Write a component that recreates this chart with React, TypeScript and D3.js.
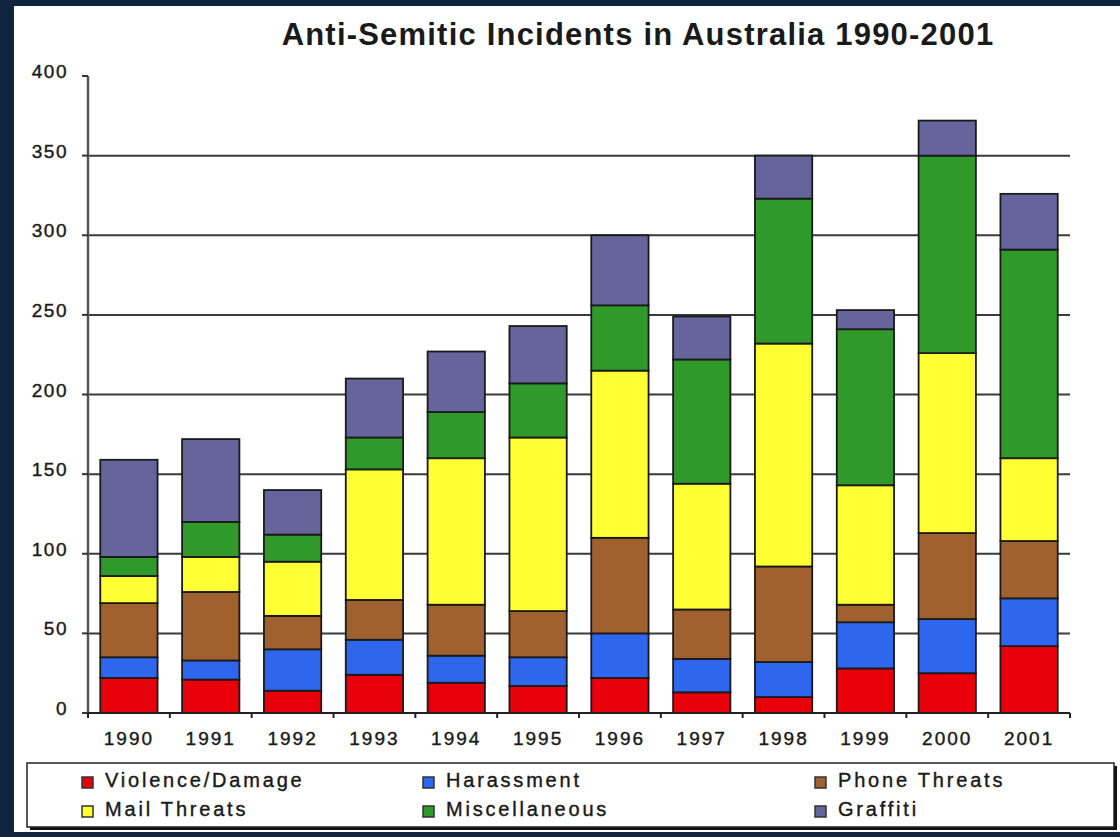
import * as d3 from "d3";

const years = ["1990", "1991", "1992", "1993", "1994", "1995", "1996", "1997", "1998", "1999", "2000", "2001"];
const seriesNames = ["Violence/Damage", "Harassment", "Phone Threats", "Mail Threats", "Miscellaneous", "Graffiti"];
const seriesColors = ["#e8000b", "#2f66ee", "#a0612e", "#ffff33", "#2f9a2a", "#65659c"];

// values per series, one per year
const violence = [22, 21, 14, 24, 19, 17, 22, 13, 10, 28, 25, 42];
const harassment = [13, 12, 26, 22, 17, 18, 28, 21, 22, 29, 34, 30];
const phone = [34, 43, 21, 25, 32, 29, 60, 31, 60, 11, 54, 36];
const mail = [17, 22, 34, 82, 92, 109, 105, 79, 140, 75, 113, 52];
const misc = [12, 22, 17, 20, 29, 34, 41, 78, 91, 98, 124, 131];
const graffiti = [61, 52, 28, 37, 38, 36, 44, 27, 27, 12, 22, 35];

const yTicks = [0, 50, 100, 150, 200, 250, 300, 350, 400];
const gridValues = [50, 100, 150, 200, 250, 300, 350];

const W = 1120;
const H = 837;
const font = "'Liberation Sans', Arial, sans-serif";

export default function App() {
  const series = [violence, harassment, phone, mail, misc, graffiti];
  const rows = years.map((y, i) => {
    const r: Record<string, number | string> = { year: y };
    seriesNames.forEach((n, k) => (r[n] = series[k][i]));
    return r;
  });
  const stacked = d3.stack<Record<string, number | string>>().keys(seriesNames)(rows as any);

  const x = d3.scaleBand<string>().domain(years).range([88, 1070]).paddingInner(0.3).paddingOuter(0.15);
  const y = d3.scaleLinear().domain([0, 400]).range([713, 76]);
  const step = x.step();

  const legendCols = [82, 423, 815];
  const legendRows = [777, 806];

  return (
    <div style={{ position: "fixed", left: 0, top: 0 }}>
      <svg width={W} height={H} style={{ display: "block" }}>
        <rect width={W} height={H} fill="#10233f" />
        <rect x={14} y={6} width={W - 14} height={826} fill="#ffffff" />

        <text
          x={638}
          y={45}
          textAnchor="middle"
          fontFamily={font}
          fontWeight="bold"
          fontSize={31}
          letterSpacing={1.2}
          fill="#1a1a1a"
        >
          Anti-Semitic Incidents in Australia 1990-2001
        </text>

        {/* gridlines */}
        {gridValues.map((v) => (
          <line key={v} x1={88} x2={1070} y1={y(v)} y2={y(v)} stroke="#3a3a3a" strokeWidth={2} />
        ))}

        {/* y axis */}
        <line x1={88} x2={88} y1={y(400)} y2={y(0)} stroke="#555" strokeWidth={2.5} />
        {yTicks.map((v) => (
          <g key={v}>
            <line x1={82} x2={88} y1={y(v)} y2={y(v)} stroke="#333" strokeWidth={2} />
            <text
              x={68}
              y={y(v) - 3}
              textAnchor="end"
              dominantBaseline="middle"
              fontFamily={font}
              fontSize={19}
              letterSpacing={1.5}
              fill="#1a1a1a"
              stroke="#1a1a1a"
              strokeWidth={0.4}
            >
              {v}
            </text>
          </g>
        ))}

        {/* bars */}
        {stacked.map((layer, k) => (
          <g key={layer.key}>
            {layer.map((d, i) => (
              <rect
                key={years[i]}
                x={x(years[i])}
                y={y(d[1])}
                width={x.bandwidth()}
                height={y(d[0]) - y(d[1])}
                fill={seriesColors[k]}
                stroke="#1a1a1a"
                strokeWidth={1.8}
              />
            ))}
          </g>
        ))}

        {/* x axis */}
        <line x1={88} x2={1070} y1={y(0)} y2={y(0)} stroke="#222" strokeWidth={2} />
        {d3.range(years.length + 1).map((i) => (
          <line key={i} x1={88 + i * step} x2={88 + i * step} y1={y(0)} y2={y(0) + 5} stroke="#222" strokeWidth={2} />
        ))}
        {years.map((yr) => (
          <text
            key={yr}
            x={(x(yr) ?? 0) + x.bandwidth() / 2}
            y={740}
            textAnchor="middle"
            dominantBaseline="middle"
            fontFamily={font}
            fontSize={19}
            letterSpacing={2}
            fill="#1a1a1a"
            stroke="#1a1a1a"
            strokeWidth={0.4}
          >
            {yr}
          </text>
        ))}

        {/* legend */}
        <rect x={30} y={766} width={1087} height={64} fill="#111" />
        <rect x={27} y={763} width={1087} height={64} fill="#fff" stroke="#222" strokeWidth={1.5} />
        {seriesNames.map((n, k) => {
          const cx = legendCols[k % 3];
          const cy = legendRows[Math.floor(k / 3)];
          return (
            <g key={n}>
              <rect x={cx} y={cy} width={11} height={11} fill={seriesColors[k]} stroke="#333" strokeWidth={1.5} />
              <text
                x={cx + 23}
                y={cy + 5}
                dominantBaseline="middle"
                fontFamily={font}
                fontSize={20}
                letterSpacing={2.8}
                fill="#1a1a1a"
                stroke="#1a1a1a"
                strokeWidth={0.4}
              >
                {n}
              </text>
            </g>
          );
        })}
      </svg>
    </div>
  );
}
